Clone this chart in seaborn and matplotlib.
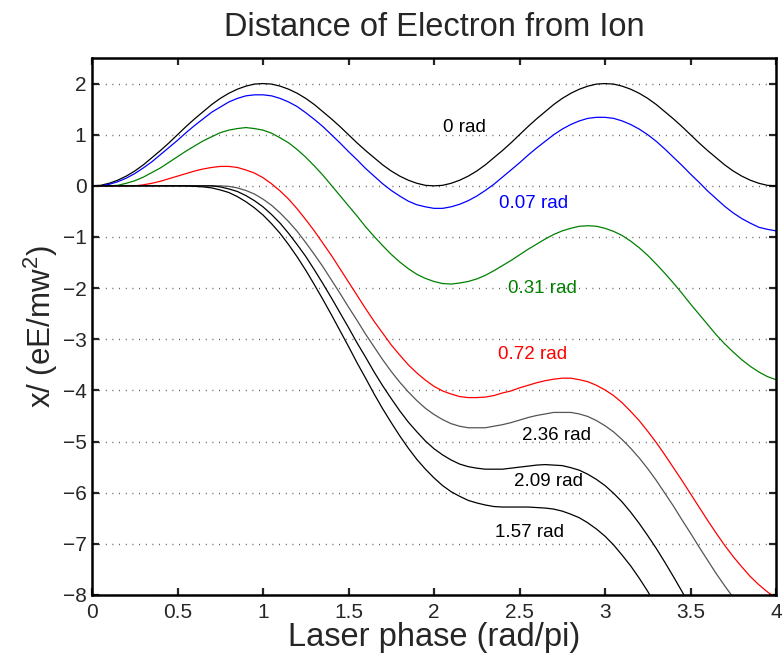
import matplotlib
matplotlib.use("Agg")
import matplotlib.pyplot as plt
import seaborn as sns
import pandas as pd

# ---- data, laser phase in units of pi ----
phase = [0.00, 0.05, 0.10, 0.15, 0.20, 0.25, 0.30, 0.35, 0.40, 0.45,
         0.50, 0.55, 0.60, 0.65, 0.70, 0.75, 0.80, 0.85, 0.90, 0.95,
         1.00, 1.05, 1.10, 1.15, 1.20, 1.25, 1.30, 1.35, 1.40, 1.45,
         1.50, 1.55, 1.60, 1.65, 1.70, 1.75, 1.80, 1.85, 1.90, 1.95,
         2.00, 2.05, 2.10, 2.15, 2.20, 2.25, 2.30, 2.35, 2.40, 2.45,
         2.50, 2.55, 2.60, 2.65, 2.70, 2.75, 2.80, 2.85, 2.90, 2.95,
         3.00, 3.05, 3.10, 3.15, 3.20, 3.25, 3.30, 3.35, 3.40, 3.45,
         3.50, 3.55, 3.60, 3.65, 3.70, 3.75, 3.80, 3.85, 3.90, 3.95,
         4.00]

x_0rad = [0.00, 0.01, 0.05, 0.11, 0.19, 0.29, 0.41, 0.55, 0.69, 0.84,
          1.00, 1.16, 1.31, 1.45, 1.59, 1.71, 1.81, 1.89, 1.95, 1.99,
          2.00, 1.99, 1.95, 1.89, 1.81, 1.71, 1.59, 1.45, 1.31, 1.16,
          1.00, 0.84, 0.69, 0.55, 0.41, 0.29, 0.19, 0.11, 0.05, 0.01,
          0.00, 0.01, 0.05, 0.11, 0.19, 0.29, 0.41, 0.55, 0.69, 0.84,
          1.00, 1.16, 1.31, 1.45, 1.59, 1.71, 1.81, 1.89, 1.95, 1.99,
          2.00, 1.99, 1.95, 1.89, 1.81, 1.71, 1.59, 1.45, 1.31, 1.16,
          1.00, 0.84, 0.69, 0.55, 0.41, 0.29, 0.19, 0.11, 0.05, 0.01,
          0.00]
x_007 = [0.00, 0.00, 0.03, 0.08, 0.15, 0.24, 0.35, 0.47, 0.61, 0.75,
         0.89, 1.04, 1.18, 1.31, 1.44, 1.54, 1.64, 1.71, 1.76, 1.78,
         1.78, 1.76, 1.71, 1.64, 1.55, 1.43, 1.30, 1.16, 1.00, 0.84,
         0.67, 0.51, 0.34, 0.19, 0.04, -0.09, -0.20, -0.30, -0.37, -0.41,
         -0.44, -0.44, -0.41, -0.36, -0.29, -0.20, -0.09, 0.03, 0.17, 0.31,
         0.45, 0.60, 0.74, 0.87, 1.00, 1.11, 1.20, 1.27, 1.32, 1.34,
         1.34, 1.32, 1.27, 1.20, 1.11, 1.00, 0.87, 0.72, 0.56, 0.40,
         0.23, 0.07, -0.10, -0.25, -0.40, -0.53, -0.64, -0.73, -0.81, -0.85,
         -0.88]
x_031 = [0.00, 0.00, 0.00, 0.01, 0.05, 0.10, 0.17, 0.26, 0.35, 0.46,
         0.57, 0.68, 0.78, 0.88, 0.96, 1.04, 1.09, 1.12, 1.14, 1.12,
         1.09, 1.03, 0.94, 0.84, 0.71, 0.56, 0.39, 0.21, 0.01, -0.19,
         -0.39, -0.59, -0.80, -0.99, -1.17, -1.34, -1.49, -1.62, -1.73, -1.81,
         -1.87, -1.91, -1.92, -1.90, -1.87, -1.82, -1.75, -1.66, -1.56, -1.46,
         -1.35, -1.24, -1.14, -1.04, -0.95, -0.88, -0.83, -0.79, -0.78, -0.79,
         -0.83, -0.89, -0.97, -1.08, -1.21, -1.36, -1.53, -1.71, -1.90, -2.10,
         -2.31, -2.51, -2.71, -2.91, -3.09, -3.25, -3.40, -3.53, -3.64, -3.73,
         -3.79]
x_072 = [0.00, 0.00, 0.00, 0.00, 0.00, 0.00, 0.02, 0.05, 0.09, 0.14,
         0.19, 0.24, 0.29, 0.33, 0.36, 0.38, 0.38, 0.36, 0.31, 0.25,
         0.16, 0.04, -0.10, -0.26, -0.45, -0.66, -0.88, -1.12, -1.36, -1.62,
         -1.88, -2.14, -2.40, -2.65, -2.88, -3.11, -3.31, -3.50, -3.66, -3.80,
         -3.92, -4.01, -4.07, -4.12, -4.14, -4.14, -4.13, -4.10, -4.05, -4.01,
         -3.95, -3.90, -3.85, -3.81, -3.78, -3.76, -3.76, -3.79, -3.83, -3.90,
         -3.99, -4.10, -4.24, -4.41, -4.59, -4.80, -5.02, -5.26, -5.51, -5.76,
         -6.02, -6.28, -6.54, -6.79, -7.03, -7.25, -7.45, -7.64, -7.80, -7.94,
         -8.06]
x_236 = [0.00, 0.00, 0.00, 0.00, 0.00, 0.00, 0.00, 0.00, 0.00, 0.00,
         0.00, 0.00, 0.00, 0.00, 0.00, 0.00, -0.01, -0.04, -0.09, -0.16,
         -0.26, -0.38, -0.53, -0.70, -0.89, -1.11, -1.34, -1.58, -1.84, -2.10,
         -2.37, -2.63, -2.90, -3.15, -3.40, -3.63, -3.84, -4.03, -4.20, -4.35,
         -4.47, -4.57, -4.65, -4.70, -4.73, -4.73, -4.73, -4.70, -4.67, -4.63,
         -4.58, -4.53, -4.49, -4.46, -4.43, -4.43, -4.43, -4.46, -4.51, -4.59,
         -4.69, -4.81, -4.96, -5.13, -5.32, -5.53, -5.76, -6.01, -6.26, -6.53,
         -6.79, -7.06, -7.32, -7.58, -7.82, -8.05]
x_209 = [0.00, 0.00, 0.00, 0.00, 0.00, 0.00, 0.00, 0.00, 0.00, 0.00,
         0.00, 0.00, 0.00, 0.00, 0.00, -0.02, -0.06, -0.11, -0.19, -0.29,
         -0.41, -0.56, -0.73, -0.93, -1.15, -1.38, -1.64, -1.91, -2.19, -2.48,
         -2.77, -3.07, -3.35, -3.64, -3.91, -4.16, -4.40, -4.62, -4.81, -4.99,
         -5.14, -5.26, -5.36, -5.44, -5.49, -5.52, -5.54, -5.54, -5.54, -5.52,
         -5.50, -5.48, -5.46, -5.45, -5.46, -5.47, -5.51, -5.56, -5.64, -5.74,
         -5.86, -6.01, -6.18, -6.38, -6.60, -6.84, -7.09, -7.36, -7.64, -7.93,
         -8.23]
x_157 = [0.00, 0.00, 0.00, 0.00, 0.00, 0.00, 0.00, 0.00, 0.00, 0.00,
         0.00, 0.00, -0.01, -0.02, -0.04, -0.08, -0.13, -0.21, -0.31, -0.43,
         -0.57, -0.74, -0.93, -1.15, -1.39, -1.65, -1.93, -2.22, -2.52, -2.83,
         -3.14, -3.46, -3.76, -4.07, -4.36, -4.63, -4.89, -5.13, -5.35, -5.54,
         -5.71, -5.86, -5.98, -6.07, -6.15, -6.20, -6.24, -6.27, -6.28, -6.28,
         -6.28, -6.28, -6.29, -6.30, -6.32, -6.36, -6.42, -6.49, -6.59, -6.71,
         -6.85, -7.02, -7.22, -7.43, -7.67, -7.93, -8.21]

labels = ["0 rad", "0.07 rad", "0.31 rad", "0.72 rad", "2.36 rad", "2.09 rad", "1.57 rad"]
label_x = [2.18, 2.585, 2.635, 2.575, 2.715, 2.67, 2.56]
label_y = [1.14, -0.34, -2.00, -3.29, -4.89, -5.79, -6.77]
xticks = [0, 0.5, 1, 1.5, 2, 2.5, 3, 3.5, 4]
yticks = [-8, -7, -6, -5, -4, -3, -2, -1, 0, 1, 2]

series = [x_0rad, x_007, x_031, x_072, x_236, x_209, x_157]
colors = ["black", "#0000ff", "#008000", "#ff0000", "#555555", "black", "black"]
label_colors = ["black", "#0000ff", "#008000", "#ff0000", "black", "black", "black"]

# ---- style ----
sns.set_style("white")
plt.rcParams["font.family"] = ["Liberation Sans", "DejaVu Sans"]
plt.rcParams["mathtext.fontset"] = "custom"
plt.rcParams["mathtext.rm"] = "Liberation Sans"

fig = plt.figure(figsize=(7.83, 6.60), dpi=100)
ax = fig.add_axes([92 / 783, 1 - 595 / 660, (776 - 92) / 783, (595 - 58) / 660])

for y in yticks:
    ax.axhline(y, color="0.25", lw=1.0, linestyle=(0, (0.6, 4.2)), zorder=0)

for ys, c in zip(series, colors):
    df = pd.DataFrame({"phase": phase[:len(ys)], "x": ys})
    sns.lineplot(data=df, x="phase", y="x", color=c, lw=0.9, ax=ax,
                 estimator=None, sort=False)

for lab, lx, ly, lc in zip(labels, label_x, label_y, label_colors):
    ax.text(lx, ly, lab, color=lc, fontsize=13.5, ha="center", va="center")

ax.set_xlim(0, 4)
ax.set_ylim(-8, 2.5)
ax.set_xticks(xticks)
ax.set_xticklabels(["0", "0.5", "1", "1.5", "2", "2.5", "3", "3.5", "4"])
ax.set_yticks(yticks)
ax.set_yticklabels(["\u22128", "\u22127", "\u22126", "\u22125", "\u22124", "\u22123",
                    "\u22122", "\u22121", "0", "1", "2"])
ax.tick_params(direction="in", length=5, width=1.6, labelsize=15,
               top=True, right=True, bottom=True, left=True)
ax.tick_params(axis="x", pad=6)
ax.tick_params(axis="y", pad=4)
for s in ax.spines.values():
    s.set_linewidth(1.8)
    s.set_color("black")
    s.set_visible(True)

ax.set_title("Distance of Electron from Ion", fontsize=23.5, pad=16)
ax.set_xlabel("Laser phase (rad/pi)", fontsize=23.5, labelpad=0)
ax.set_ylabel("x/ (eE/mw$^2$)", fontsize=22.5, labelpad=2)

fig.savefig("out.png", dpi=100)
